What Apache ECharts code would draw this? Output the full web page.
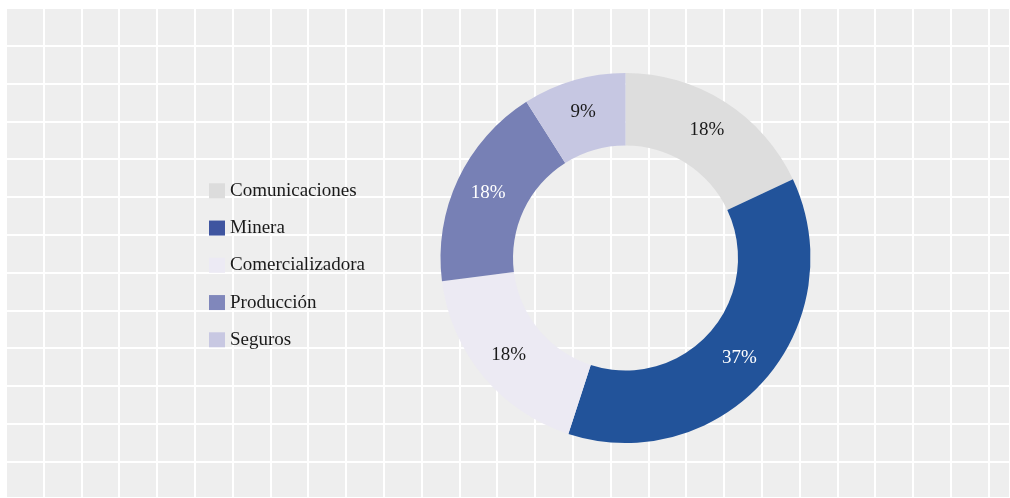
<!DOCTYPE html>
<html>
<head>
<meta charset="utf-8">
<title>Distribución por sector</title>
<script src="https://cdn.jsdelivr.net/npm/echarts@6/dist/echarts.min.js"></script>
<style>
  html, body { margin: 0; padding: 0; background: #ffffff; }
  #chart { width: 1010px; height: 498px; }
</style>
</head>
<body>
<div id="chart"></div>
<script>
// Sector shares (percent)
const sectors = ['Comunicaciones', 'Minera', 'Comercializadora', 'Producción', 'Seguros'];
const shares = [18, 37, 18, 18, 9];

// Ring colours and the slightly different legend swatch colours
const sliceColors = ['#dddddd', '#22539a', '#eceaf3', '#7780b5', '#c6c7e2'];
const swatchColors = ['#dcdcdc', '#3f55a0', '#eceaf4', '#8087bb', '#c8c8e2'];
const labelColors = ['#1a1a1a', '#ffffff', '#1a1a1a', '#ffffff', '#1a1a1a'];

const FONT = '"Liberation Serif", "DejaVu Serif", serif';
const CELL = 37.8; // size of one background lattice cell, px

const chart = echarts.init(document.getElementById('chart'), null, { renderer: 'canvas' });

const gridLeft = 5.7, gridTop = 8;
const gridW = 1010 - gridLeft, gridH = 498 - gridTop;

chart.setOption({
  animation: false,
  backgroundColor: '#ffffff',
  graphic: [{
    type: 'rect',
    z: -10,
    silent: true,
    shape: { x: 7, y: 9, width: 1003, height: 489 },
    style: { fill: '#eeeeee' }
  }],
  grid: { left: gridLeft, top: gridTop, width: gridW, height: gridH, show: false },
  xAxis: {
    type: 'value', min: 0, max: gridW / CELL, interval: 1,
    axisLine: { show: false }, axisTick: { show: false }, axisLabel: { show: false },
    splitLine: { show: true, lineStyle: { color: '#ffffff', width: 2 } }
  },
  yAxis: {
    type: 'value', inverse: true, min: 0, max: gridH / CELL, interval: 1,
    axisLine: { show: false }, axisTick: { show: false }, axisLabel: { show: false },
    splitLine: { show: true, lineStyle: { color: '#ffffff', width: 2 } }
  },
  legend: {
    orient: 'vertical',
    left: 204,
    top: 176.3,
    icon: 'rect',
    itemWidth: 16,
    itemHeight: 15,
    itemGap: 18.25,
    selectedMode: false,
    textStyle: { fontFamily: FONT, fontSize: 19, color: '#1a1a1a', lineHeight: 19 },
    data: sectors.map((name, i) => ({ name, itemStyle: { color: swatchColors[i] } }))
  },
  series: [{
    type: 'pie',
    center: [625.5, 258],
    radius: [112.5, 185],
    startAngle: 90,
    clockwise: true,
    avoidLabelOverlap: false,
    silent: true,
    label: {
      show: true,
      position: 'inside',
      formatter: '{c}%',
      fontFamily: FONT,
      fontSize: 19
    },
    labelLine: { show: false },
    itemStyle: { borderWidth: 0 },
    data: sectors.map((name, i) => ({
      name,
      value: shares[i],
      itemStyle: { color: sliceColors[i] },
      label: { color: labelColors[i] }
    }))
  }]
});
</script>
</body>
</html>
